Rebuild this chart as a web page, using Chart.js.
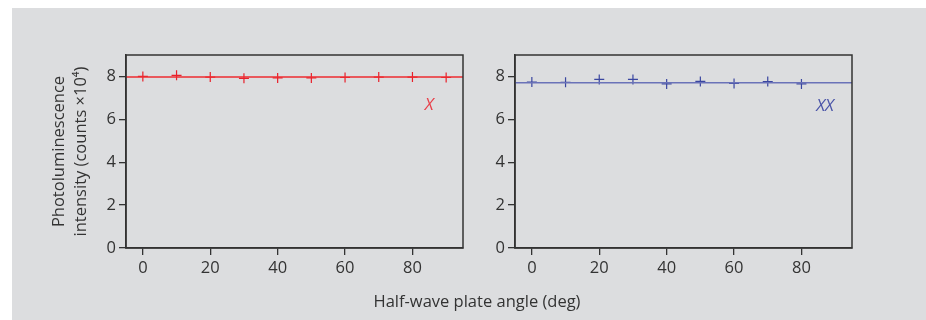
<!DOCTYPE html>
<html>
<head>
<meta charset="utf-8">
<script src="https://cdn.jsdelivr.net/npm/chart.js@4"></script>
<style>
  body { margin: 0; background: #fff; font-family: 'Open Sans', sans-serif; }
  #panel { position: absolute; left: 12px; top: 8px; width: 914px; height: 312px; background: #dcdddf; }
  .wrap { position: absolute; top: 0; height: 300px; }
  #xtitle { position: absolute; left: 0; width: 930px; top: 281px; text-align: center; font-size: 16.5px; color: #333; }
</style>
</head>
<body>
<div id="panel">
  <div class="wrap" style="left:0;width:458px"><canvas id="chart-x"></canvas></div>
  <div class="wrap" style="left:468px;width:390px"><canvas id="chart-xx"></canvas></div>
  <div id="xtitle">Half-wave plate angle (deg)</div>
</div>
<script>
const ANGLES   = [0, 10, 20, 30, 40, 50, 60, 70, 80, 90];
const X_VALUES = [8.0, 8.05, 7.97, 7.91, 7.93, 7.93, 7.95, 7.97, 7.97, 7.95];
const X_FIT    = 7.97;

const XX_ANGLES = [0, 10, 20, 30, 40, 50, 60, 70, 80];
const XX_VALUES = [7.74, 7.73, 7.86, 7.86, 7.65, 7.77, 7.67, 7.76, 7.65];
const XX_FIT    = 7.71;

const X_TICKS = [0, 20, 40, 60, 80];
const Y_TICKS = [0, 2, 4, 6, 8];
const X_RANGE = [-5, 95];
const Y_RANGE = [0, 9];

const Y_TITLE = ['Photoluminescence', 'intensity (counts \u00d710\u2074)'];

const INK = '#333';

// box around the plot area (top and right sides)
const frame = {
  id: 'frame',
  afterDraw(chart) {
    const { ctx, chartArea: a } = chart;
    ctx.save();
    ctx.strokeStyle = INK;
    ctx.lineWidth = 1.5;
    ctx.strokeRect(a.left, a.top, a.right - a.left, a.bottom - a.top);
    ctx.restore();
  }
};

// italic series tag, placed in data coordinates
const tag = {
  id: 'tag',
  afterDatasetsDraw(chart, args, opts) {
    const { ctx, scales: { x, y } } = chart;
    ctx.save();
    ctx.font = 'italic 17px "Open Sans", sans-serif';
    ctx.fillStyle = opts.color;
    ctx.textAlign = 'center';
    ctx.textBaseline = 'middle';
    ctx.fillText(opts.text, x.getPixelForValue(opts.x), y.getPixelForValue(opts.y));
    ctx.restore();
  }
};

function makeChart(id, cfg) {
  const tickFont = { family: 'Open Sans', size: 16.5 };
  return new Chart(document.getElementById(id), {
    type: 'scatter',
    plugins: [frame, tag],
    data: {
      datasets: [
        {
          type: 'line',
          data: [{ x: X_RANGE[0], y: cfg.fit }, { x: X_RANGE[1], y: cfg.fit }],
          borderColor: cfg.lineColor,
          borderWidth: 1.5,
          pointRadius: 0,
        },
        {
          data: cfg.angles.map((a, i) => ({ x: a, y: cfg.values[i] })),
          pointStyle: 'cross',
          pointRadius: 5,
          borderWidth: 1.2,
          borderColor: cfg.pointColor,
        }
      ]
    },
    options: {
      responsive: true,
      maintainAspectRatio: false,
      animation: false,
      layout: { padding: { left: 0, right: cfg.padRight, top: 47, bottom: 0 } },
      scales: {
        x: {
          type: 'linear',
          min: X_RANGE[0], max: X_RANGE[1],
          afterBuildTicks: s => { s.ticks = X_TICKS.map(v => ({ value: v })); },
          afterFit: s => { s.height = 60; },
          ticks: { color: INK, font: tickFont, padding: 3 },
          grid: { display: true, drawOnChartArea: false, drawTicks: true, tickLength: 7, color: INK, lineWidth: 1.3 },
          border: { display: true, color: INK, width: 1.5 },
        },
        y: {
          min: Y_RANGE[0], max: Y_RANGE[1],
          afterBuildTicks: s => { s.ticks = Y_TICKS.map(v => ({ value: v })); },
          afterFit: s => { s.width = cfg.yWidth; },
          ticks: { color: INK, font: tickFont, padding: 3 },
          grid: { display: true, drawOnChartArea: false, drawTicks: true, tickLength: 7, color: INK, lineWidth: 1.3 },
          border: { display: true, color: INK, width: 1.5 },
          title: {
            display: cfg.showTitle,
            text: Y_TITLE,
            color: INK,
            font: { family: 'Open Sans', size: 16.5, lineHeight: 1.35 },
            padding: { top: 36, bottom: 0 },
          },
        }
      },
      plugins: {
        legend: { display: false },
        tooltip: { enabled: false },
        tag: cfg.tag,
      }
    }
  });
}

makeChart('chart-x', {
  angles: ANGLES, values: X_VALUES, fit: X_FIT,
  lineColor: '#ee2b30', pointColor: '#e8202a',
  yWidth: 114, padRight: 7, showTitle: true,
  tag: { text: 'X', x: 85, y: 6.65, color: '#e8404a' },
});

makeChart('chart-xx', {
  angles: XX_ANGLES, values: XX_VALUES, fit: XX_FIT,
  lineColor: '#6a72b8', pointColor: '#3a46a0',
  yWidth: 35, padRight: 18, showTitle: false,
  tag: { text: 'XX', x: 87, y: 6.6, color: '#4b55a8' },
});
</script>
</body>
</html>
